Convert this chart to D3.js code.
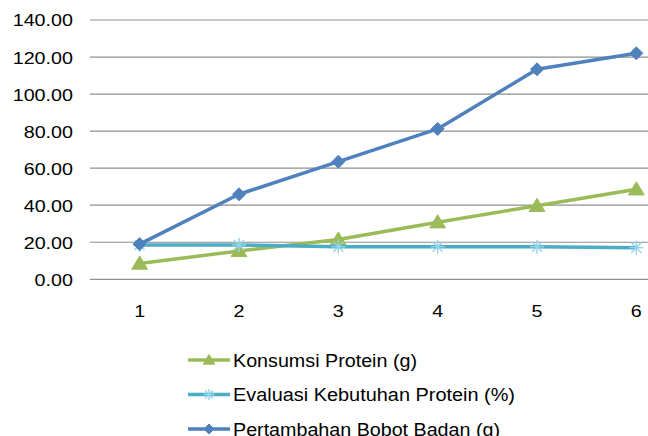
<!DOCTYPE html>
<html>
<head>
<meta charset="utf-8">
<script src="https://cdn.jsdelivr.net/npm/d3@7"></script>
<style>
  html, body { margin: 0; padding: 0; background: #fff; }
  svg { display: block; }
  text { font-family: "Liberation Sans", Arial, sans-serif; fill: #000; }
</style>
</head>
<body>
<svg id="chart" width="648" height="436"></svg>
<script>
// Periods (x categories)
const categories = [1, 2, 3, 4, 5, 6];
// Series values
const konsumsiProtein = [8.5, 15.3, 21.5, 30.8, 39.7, 48.6];
const evaluasiKebutuhan = [18.5, 18.5, 17.6, 17.6, 17.6, 17.1];
const pertambahanBobot = [19.0, 45.9, 63.5, 81.2, 113.4, 122.0];
// Axis ticks
const yTicks = [0, 20, 40, 60, 80, 100, 120, 140];
const seriesNames = ["Konsumsi Protein (g)", "Evaluasi Kebutuhan Protein (%)", "Pertambahan Bobot Badan (g)"];

const series = [
  { name: seriesNames[0], values: konsumsiProtein, color: "#9BBB59", marker: "triangle" },
  { name: seriesNames[1], values: evaluasiKebutuhan, color: "#4BACC6", marker: "star" },
  { name: seriesNames[2], values: pertambahanBobot, color: "#4F81BD", marker: "diamond" }
];

// Legend label widths (layout)
const legendTextWidths = [184, 282, 267];

const svg = d3.select("#chart");
const SX = 1.16; // horizontal text stretch

const x = d3.scaleBand().domain(categories).range([90, 686]);
const cx = d => x(d) + x.bandwidth() / 2;
const y = d3.scaleLinear().domain([0, 140]).range([279.3, 20]);

function stretchedText(g, tx, ty, str, anchor, size) {
  return g.append("text")
    .attr("transform", `translate(${tx},${ty}) scale(${SX},1)`)
    .attr("text-anchor", anchor)
    .attr("dy", "0.35em")
    .style("font-size", size + "px")
    .text(str);
}

// Gridlines
svg.append("g").selectAll("line").data(yTicks).join("line")
  .attr("x1", 90).attr("x2", 686)
  .attr("y1", d => y(d)).attr("y2", d => y(d))
  .attr("stroke", "#8f8f8f").attr("stroke-width", 1.2);

// Y tick labels
const yl = svg.append("g");
yTicks.forEach(t => stretchedText(yl, 73, y(t) + 0.5, d3.format(".2f")(t), "end", 17));

// X tick labels
const xl = svg.append("g");
categories.forEach(c => stretchedText(xl, cx(c), 311.5, String(c), "middle", 17));

function drawMarker(g, type, px, py, color, s) {
  if (type === "diamond") {
    g.append("path")
      .attr("d", `M${px},${py - s}L${px + s},${py}L${px},${py + s}L${px - s},${py}Z`)
      .attr("fill", color).attr("stroke", color).attr("stroke-width", 1);
  } else if (type === "triangle") {
    g.append("path")
      .attr("d", `M${px},${py - s}L${px + s * 1.05},${py + s * 0.75}L${px - s * 1.05},${py + s * 0.75}Z`)
      .attr("fill", color).attr("stroke", color).attr("stroke-width", 1);
  } else if (type === "star") {
    const st = "#93d5ea";
    const r = s;
    [[0, -r, 0, r], [-r, 0, r, 0], [-r * 0.72, -r * 0.72, r * 0.72, r * 0.72], [-r * 0.72, r * 0.72, r * 0.72, -r * 0.72]]
      .forEach(([a, b, c, d]) => g.append("line")
        .attr("x1", px + a).attr("y1", py + b).attr("x2", px + c).attr("y2", py + d)
        .attr("stroke", st).attr("stroke-width", 1.4));
  }
}

const line = d3.line().x((d, i) => cx(categories[i])).y(d => y(d));

series.forEach(s => {
  const g = svg.append("g");
  g.append("path").datum(s.values)
    .attr("d", line)
    .attr("fill", "none")
    .attr("stroke", s.color)
    .attr("stroke-width", 3.5)
    .attr("stroke-linejoin", "round");
  const ms = s.marker === "diamond" ? 6.5 : s.marker === "triangle" ? 7.5 : 7;
  s.values.forEach((v, i) => drawMarker(g, s.marker, cx(categories[i]), y(v), s.color, ms));
});

// Legend
const lg = svg.append("g");
series.forEach((s, i) => {
  const ly = 360 + i * 34.5;
  lg.append("line").attr("x1", 188).attr("x2", 230).attr("y1", ly).attr("y2", ly)
    .attr("stroke", s.color).attr("stroke-width", 3.5);
  const ms = s.marker === "diamond" ? 5 : s.marker === "triangle" ? 5.5 : 5.5;
  drawMarker(lg, s.marker, 209, ly, s.color, ms);
  lg.append("text")
    .attr("x", 233).attr("y", ly + 0.5)
    .attr("dy", "0.35em")
    .attr("textLength", legendTextWidths[i])
    .attr("lengthAdjust", "spacingAndGlyphs")
    .style("font-size", "17.5px")
    .text(s.name);
});
</script>
</body>
</html>
